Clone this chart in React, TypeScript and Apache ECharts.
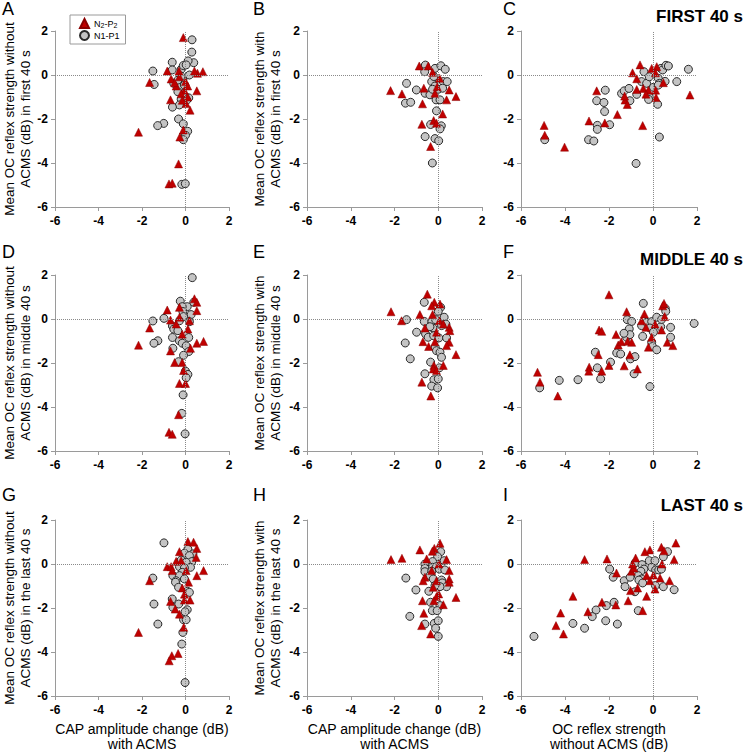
import React, { useEffect, useRef } from "react";
import * as echarts from "echarts";

// ---- data: [x, y] pairs per panel ----
const aTri = [[-0.1,1.7],[-0.84,0.18],[-1.65,-0.34],[-2.16,-2.6],[-0.69,-1.13],[-0.66,-0.18],[-0.3,0.18],[0.8,0.15],[0.52,-0.72],[0.21,-1.6],[0.55,0.08],[0.41,0.18],[0,-0.3],[-0.05,-0.7],[0.1,-0.5],[-0.2,-0.85],[-0.43,-0.5],[-0.5,-0.35],[-0.32,-4.04],[-0.76,-4.95],[-0.61,-4.92],[-0.26,-2.82],[-0.1,-2.5],[0.03,-1.3],[-0.15,-1.15],[0.1,-1.0],[-0.28,-0.08]];
const aCirc = [[0.3,1.6],[0.29,1.04],[-0.61,0.58],[0.38,0.56],[0.12,0.64],[-1.5,0.18],[-1.44,-0.43],[-0.61,0.23],[-0.2,0.26],[-0.1,0.43],[0.03,0.46],[0.18,0],[-0.54,-0.38],[-0.28,-0.56],[-0.12,-0.2],[-0.35,-0.76],[0.15,-1.04],[-0.2,-1.1],[0.06,-1.14],[-0.28,-1.36],[-0.6,-1.46],[-0.32,-2.0],[-0.1,-2.22],[-1.0,-2.2],[-1.28,-2.3],[0.1,-2.56],[0,-2.74],[-0.1,-2.94],[-0.17,-4.97],[-0.01,-4.94],[-0.35,-0.23],[-0.05,-0.46],[-0.2,-0.05]];

const bTri = [[-0.87,0.41],[-0.46,0.41],[-0.26,0.12],[0.06,-0.15],[-2.18,-0.71],[-1.66,-0.86],[-0.66,-0.6],[0.5,-0.68],[-0.72,-1.31],[0.38,-1.13],[0.81,-0.98],[0.2,-1.77],[-0.75,-2.24],[-0.21,-2.07],[-0.08,-2.19],[-0.35,-3.25],[-0.15,-0.83],[-0.05,-0.53]];
const bCirc = [[-0.59,0.45],[-0.62,0.15],[-0.15,0.3],[0.12,0.42],[0.32,0.26],[-1.45,-0.38],[-1.0,-0.68],[-1.5,-1.28],[-1.26,-1.24],[-0.6,-0.83],[-0.3,-0.3],[-0.15,-0.5],[0,-0.65],[0.23,-0.3],[0.41,-0.3],[-0.38,-0.9],[-0.1,-1.13],[0.08,-1.13],[-0.08,-1.63],[-0.35,-2.25],[0.14,-2.31],[0.08,-2.45],[-0.6,-2.8],[-0.15,-2.89],[0.02,-2.99],[-0.27,-4.0],[-0.2,-0.07],[-0.26,-0.65],[0.2,-0.6]];

const cTri = [[-4.95,-2.29],[-4.92,-2.74],[-4.02,-3.28],[-2.91,-2.09],[-2.56,-0.72],[-2.19,-2.18],[-1.62,-1.8],[-1.27,-1.14],[-1.17,-1.34],[-0.93,0.1],[-0.74,-0.17],[-0.74,-0.66],[-0.59,0.46],[-0.44,-0.61],[-0.47,-2.3],[-0.06,0.3],[0.17,0.38],[0.11,0.1],[0.12,-0.69],[0.14,-1.02],[-0.21,-0.69],[-0.32,-0.87],[1.68,-0.91],[-1.29,-0.96],[0.47,-0.35]];
const cCirc = [[-4.92,-2.94],[-2.93,-2.94],[-2.69,-3.0],[-2.53,-2.29],[-2.53,-2.47],[-2.56,-1.17],[-2.17,-0.69],[-2.23,-1.25],[-2.2,-1.66],[-1.97,-2.26],[-1.43,-0.84],[-1.31,-0.72],[-1.09,-0.61],[-1.05,-1.17],[-0.74,-0.88],[-0.77,-4.02],[-0.41,0.15],[-0.52,-0.3],[-0.29,-0.38],[-0.17,-0.08],[-0.17,-0.99],[-0.2,-1.11],[0.02,-0.56],[0.21,-1.33],[0.29,-2.82],[0.24,-0.15],[0.29,-0.38],[0.36,0.3],[0.44,0.23],[0.59,0.44],[0.7,0.41],[0.55,-0.29],[1.08,-0.3],[1.61,0.26],[0.24,-0.46]];

const dTri = [[0.41,0.92],[0.52,0.76],[-0.84,0.41],[-0.69,-0.05],[-0.28,0.53],[-1.65,-0.41],[-2.16,-1.19],[0.52,0.38],[0.52,-1.1],[0.83,-1.02],[0.11,-0.46],[-0.5,-1.98],[-0.15,-1.98],[-0.69,-1.45],[0.23,-1.33],[-0.09,-2.34],[-0.28,-2.93],[0,-2.93],[-0.32,-4.35],[-0.76,-5.15],[-0.61,-5.24],[-0.43,-0.23],[-0.15,-0.69],[-0.28,0.08],[0.18,-0.08]];
const dCirc = [[0.31,1.88],[0.38,0.76],[-0.24,0.81],[0.08,0.56],[-0.15,0.56],[0.26,0.2],[-0.12,0.34],[-0.09,0.11],[-0.28,-0.08],[0.18,-0.12],[-0.99,0.03],[-1.5,-0.09],[-0.6,-0.32],[-0.54,-0.46],[-0.35,-0.53],[-1.27,-0.99],[-1.45,-1.1],[-0.6,-0.84],[0.15,-0.84],[-0.28,-0.99],[-0.15,-1.1],[0.03,-1.22],[-0.58,-1.33],[0.15,-1.48],[-0.09,-1.65],[-0.32,-1.94],[0,-2.37],[0.11,-2.52],[0.03,-2.67],[-0.11,-3.45],[-0.17,-4.29],[-0.02,-5.22]];

const eTri = [[-0.5,1.13],[-0.18,0.76],[0.08,0.68],[-0.3,0.6],[-2.16,0.33],[-1.68,-0.08],[-0.84,0.2],[-0.26,0.2],[-0.61,-0.41],[0.5,-0.38],[0.53,-0.53],[-0.7,-1.03],[-0.44,-1.25],[-0.15,-1.03],[0.5,-1.06],[0.38,-1.21],[0.81,-1.62],[0.23,-2.11],[-0.2,-2.11],[-0.23,-2.27],[-0.08,-2.34],[-0.75,-2.87],[-0.34,-3.5],[0.05,-0.08],[-0.08,-0.6],[0.23,-0.23]];
const eCirc = [[-0.64,0.76],[0.11,0.53],[0,0.35],[0.27,0.08],[-1.45,-0.03],[-0.64,-0.11],[-0.29,-0.11],[-0.12,-0.03],[0.35,-0.23],[0.15,-0.3],[-0.99,-0.6],[-0.24,-0.41],[-0.38,-0.35],[-0.58,-0.68],[-0.46,-0.83],[-0.21,-0.76],[0.03,-0.86],[0.38,-0.86],[-1.51,-1.09],[-0.14,-1.28],[-0.08,-1.44],[0.08,-1.51],[0.15,-1.74],[-1.28,-1.81],[-0.35,-1.96],[0.05,-2.22],[-0.61,-2.49],[-0.2,-2.76],[0,-2.72],[-0.3,-3.05],[-0.03,-3.13]];

const fTri = [[-5.25,-2.42],[-5.14,-2.87],[-4.33,-3.5],[-2.9,-2.19],[-2.92,-2.37],[-2.45,-0.5],[-2.33,-0.56],[-2.49,-1.62],[-2.33,-2.37],[-2.0,1.1],[-2.0,-2.11],[-1.68,-0.71],[-1.58,-1.18],[-1.44,-1.03],[-1.31,-2.13],[-1.2,0.33],[-1.15,-1.01],[-0.97,-1.06],[-1.05,-1.63],[-0.71,-2.27],[-0.39,0.23],[-0.32,-0.38],[-0.21,-1.28],[-0.06,-0.83],[0.09,-0.23],[0.44,0.6],[0.5,0.71],[0.53,0.11],[0.39,-0.5],[0.65,-1.06],[0.9,-1.21],[-0.52,-0.08]];
const fCirc = [[-5.15,-3.13],[-4.26,-2.79],[-3.41,-2.76],[-2.62,-1.51],[-2.53,-2.22],[-2.38,-2.72],[-1.93,-1.96],[-1.65,-1.54],[-1.47,-1.59],[-1.17,-0.03],[-0.97,-0.11],[-1.08,-0.45],[-1.2,-0.83],[-1.05,-0.71],[-1.32,-0.65],[-1.02,-1.81],[-0.82,-1.71],[-0.86,-2.49],[-0.44,0.71],[-0.52,-0.3],[-0.47,-0.79],[-0.29,-0.15],[-0.06,-0.12],[-0.14,-0.41],[0.02,-0.6],[0.17,0.08],[0.35,-0.35],[0.39,-0.02],[0.56,0.48],[0.58,0.35],[0.8,-0.38],[0.8,-0.83],[-0.06,-1.06],[-0.02,-1.25],[0.17,-1.4],[-0.14,-3.07],[1.87,-0.2]];

const gTri = [[0.11,1.02],[0.37,0.99],[0.52,0.71],[-0.28,0.56],[-0.43,0.12],[-0.84,-0.12],[-0.66,-0.12],[-0.61,-0.3],[0.83,-0.3],[0.52,-0.53],[-1.65,-0.76],[0.14,-0.83],[-0.15,-1.09],[-0.05,-1.37],[-0.05,-1.64],[0.21,-1.64],[-0.69,-1.7],[-0.47,-2.05],[-0.28,-2.28],[-0.08,-2.88],[-2.16,-3.11],[-0.34,-4.07],[-0.63,-4.17],[-0.75,-4.4],[0.03,-0.3],[-0.2,0.15],[0.49,0.3]];
const gCirc = [[-0.99,0.96],[0.11,0.68],[0.34,0.46],[-0.05,0.49],[0.18,0.38],[-0.2,0.18],[0.29,0.11],[0.03,0.08],[-0.28,-0.12],[0.23,-0.15],[-0.05,-0.18],[-0.15,-0.38],[-0.58,-0.53],[-0.28,-0.53],[-0.43,-0.76],[-0.05,-0.68],[-1.5,-0.64],[-0.46,-0.83],[-0.32,-1.06],[0.08,-1.24],[0.18,-1.29],[-0.61,-1.59],[-0.58,-1.97],[-0.31,-1.82],[-1.45,-1.82],[0.08,-2.08],[-0.02,-2.17],[-0.09,-2.53],[0.03,-2.53],[-1.27,-2.73],[-0.12,-3.11],[-0.17,-3.64],[-0.02,-5.39]];

const hTri = [[0.08,0.94],[-0.18,0.71],[-0.27,0.58],[-0.84,0.64],[-2.16,0.2],[-1.66,0.26],[-0.53,0.23],[0.38,0.2],[0.5,-0.3],[0.03,0],[0.5,-0.68],[0.5,-0.83],[-0.61,-0.6],[-0.69,-0.76],[-0.23,-1.06],[0.02,-1.36],[-0.08,-1.48],[0.81,-1.52],[-0.72,-1.67],[0.23,-1.85],[-0.2,-1.67],[-0.66,-2.24],[-0.76,-2.8],[-0.35,-3.18],[-0.08,-0.76],[-0.3,-0.3]];
const hCirc = [[0.11,0.56],[-0.03,0.33],[0.27,0.15],[-0.26,0.11],[-0.61,0],[-0.61,-0.2],[-0.61,-0.35],[-0.26,-0.15],[-0.08,-0.12],[0.05,-0.23],[0.3,-0.27],[-0.3,-0.33],[-0.38,-0.53],[-0.23,-0.68],[0.15,-0.73],[0.18,-0.86],[0.38,-1.03],[0.08,-1.03],[-0.15,-0.98],[-1.48,-0.64],[-1.02,-1.18],[-0.43,-1.24],[-0.35,-1.74],[0.08,-1.89],[-0.27,-2.12],[-0.05,-2.12],[-1.3,-2.38],[-0.61,-2.73],[-0.18,-2.7],[0,-2.58],[-0.12,-2.92],[0,-3.29]];

const iTri = [[1.04,0.95],[0.38,0.76],[0.5,0.6],[-0.14,0.64],[-0.37,0.56],[-0.79,0.27],[0.96,0.2],[-3.11,0.2],[-2.09,0.23],[-1.66,-0.41],[-0.98,-0.33],[-0.87,-0.18],[-0.93,0],[0.41,0],[-0.29,-0.53],[0.02,-0.5],[-0.14,-0.76],[0.32,-0.64],[0.75,-0.76],[0.09,-1.14],[-1.02,-1.21],[-0.7,-1.09],[-3.64,-1.47],[-1.13,-1.67],[-0.29,-1.47],[-2.32,-1.74],[-1.69,-1.86],[-2.96,-2.17],[-0.47,-2.12],[-4.2,-2.23],[-4.41,-2.8],[-4.07,-3.18]];
const iCirc = [[0.66,0.56],[0.47,0.33],[-0.17,0.15],[0.09,0.15],[-0.81,0.05],[-0.5,-0.03],[-0.06,-0.15],[-0.41,-0.23],[0.12,-0.27],[0.26,-0.27],[0.38,-0.23],[-0.55,-0.33],[-1.97,-0.23],[-1.81,-0.6],[-0.67,-0.53],[-0.52,-0.68],[-0.64,-0.73],[-0.47,-0.86],[-1.31,-0.76],[-1.27,-1.03],[-1.04,-0.6],[0.11,-0.98],[0.47,-1.03],[0.96,-1.17],[-0.82,-1.26],[-1.77,-1.74],[-2.12,-1.89],[-2.59,-2.09],[-2.76,-2.39],[-2.15,-2.58],[-0.67,-2.12],[-3.64,-2.7],[-3.11,-2.92],[-1.62,-2.73],[-5.41,-3.29]];

const triSets = [aTri, bTri, cTri, dTri, eTri, fTri, gTri, hTri, iTri];
const circSets = [aCirc, bCirc, cCirc, dCirc, eCirc, fCirc, gCirc, hCirc, iCirc];
const panelLetters = ["A", "B", "C", "D", "E", "F", "G", "H", "I"];
const rowTitles = ["FIRST 40 s", "MIDDLE 40 s", "LAST 40 s"];
const yTitles = [
  ["Mean OC reflex strength without", "ACMS (dB) in first 40 s"],
  ["Mean OC reflex strength with", "ACMS (dB) in first 40 s"],
  ["Mean OC reflex strength without", "ACMS (dB) in middle 40 s"],
  ["Mean OC reflex strength with", "ACMS (dB) in middle 40 s"],
  ["Mean OC reflex strength without", "ACMS (dB) in the last 40 s"],
  ["Mean OC reflex strength with", "ACMS (dB) in the last 40 s"],
];
const xTitles = [
  ["CAP amplitude change (dB)", "with ACMS"],
  ["CAP amplitude change (dB)", "with ACMS"],
  ["OC reflex strength", "without ACMS (dB)"],
];
const axisMin = -6;
const axisMax = 2;
const axisStep = 2;
const seriesNames = ["N2-P2", "N1-P1"];

// layout
const colLeft = [55, 307, 521];
const colWidth = [174, 175, 176];
const rowTop = [31, 275, 520];
const plotH = 176;
const FONT = "'Liberation Sans', Arial, sans-serif";

export default function App() {
  const ref = useRef<HTMLDivElement>(null);
  useEffect(() => {
    if (!ref.current) return;
    const chart = echarts.init(ref.current, undefined, { renderer: "svg" });
    const grids: any[] = [];
    const xAxes: any[] = [];
    const yAxes: any[] = [];
    const series: any[] = [];
    const graphics: any[] = [];
    const axisCommon = {
      type: "value",
      min: axisMin,
      max: axisMax,
      interval: axisStep,
      axisLine: { show: true, onZero: false, lineStyle: { color: "#9a9a9a", width: 1 } },
      axisTick: { show: true, length: 4, lineStyle: { color: "#9a9a9a" } },
      splitLine: { show: false },
    };
    for (let i = 0; i < 9; i++) {
      const r = Math.floor(i / 3);
      const c = i % 3;
      grids.push({ left: colLeft[c], top: rowTop[r], width: colWidth[c], height: plotH, containLabel: false });
      xAxes.push({
        ...axisCommon,
        gridIndex: i,
        axisLabel: { color: "#000", fontWeight: "bold", fontSize: 12, fontFamily: FONT, margin: 8 },
      });
      yAxes.push({
        ...axisCommon,
        gridIndex: i,
        axisLabel: { color: "#000", fontWeight: "bold", fontSize: 12, fontFamily: FONT, margin: 7 },
      });
      series.push({
        name: seriesNames[1],
        type: "scatter",
        xAxisIndex: i,
        yAxisIndex: i,
        symbol: "circle",
        symbolSize: 8,
        itemStyle: { color: "#c4c4c4", borderColor: "#2a2a2a", borderWidth: 1, opacity: 1 },
        data: circSets[i],
        markLine: {
          silent: true,
          symbol: ["none", "none"],
          label: { show: false },
          lineStyle: { type: "dotted", color: "#8a8a8a", width: 1 },
          emphasis: { disabled: true },
          data: [{ xAxis: 0 }, { yAxis: 0 }],
        },
      });
      series.push({
        name: seriesNames[0],
        type: "scatter",
        xAxisIndex: i,
        yAxisIndex: i,
        symbol: "triangle",
        symbolSize: 8,
        itemStyle: { color: "#c00000", borderColor: "#8a0000", borderWidth: 0.5, opacity: 1 },
        data: triSets[i],
      });
      // panel letters
      const letterX = [2, 253, 503][c];
      const letterY = [9, 252, 495][r];
      graphics.push({
        type: "text",
        x: letterX,
        y: letterY,
        style: {
          text: panelLetters[i],
          fontSize: 18,
          fontFamily: FONT,
          fill: "#000",
          textAlign: "left",
          textVerticalAlign: "middle",
        },
      });
      // y titles
      if (c < 2) {
        const lines = yTitles[r * 2 + c];
        const cy = rowTop[r] + plotH / 2;
        const lx = c === 0 ? [9, 25] : [259, 275];
        lines.forEach((t, k) => {
          graphics.push({
            type: "text",
            x: lx[k],
            y: cy,
            rotation: Math.PI / 2,
            style: {
              text: t,
              fontSize: 13.5,
              fontFamily: FONT,
              fill: "#000",
              textAlign: "center",
              textVerticalAlign: "middle",
            },
          });
        });
      }
      if (r === 2) {
        const cx = colLeft[c] + colWidth[c] / 2;
        xTitles[c].forEach((t, k) => {
          graphics.push({
            type: "text",
            x: cx,
            y: 729 + k * 15,
            style: {
              text: t,
              fontSize: 14,
              fontFamily: FONT,
              fill: "#000",
              textAlign: "center",
              textVerticalAlign: "middle",
            },
          });
        });
      }
    }
    const titleY = [16, 259, 505];
    rowTitles.forEach((t, r) => {
      graphics.push({
        type: "text",
        x: 743,
        y: titleY[r],
        style: {
          text: t,
          fontSize: 17,
          fontWeight: "bold",
          fontFamily: FONT,
          fill: "#000",
          textAlign: "right",
          textVerticalAlign: "middle",
        },
      });
    });

    chart.setOption({
      animation: false,
      backgroundColor: "#fff",
      grid: grids,
      xAxis: xAxes,
      yAxis: yAxes,
      series,
      graphic: graphics,
      legend: {
        show: true,
        data: seriesNames,
        orient: "vertical",
        left: 70,
        top: 15,
        padding: [3, 6, 3, 9],
        itemGap: 1,
        itemWidth: 9,
        itemHeight: 9,
        borderColor: "#9a9a9a",
        borderWidth: 1,
        selectedMode: false,
        formatter: (name: string) =>
          name === "N2-P2" ? "{n|N}{s|2}{n|-P}{s|2}" : "{n|N1-P1}",
        textStyle: {
          fontFamily: FONT,
          fontSize: 9,
          color: "#000",
          rich: {
            n: { fontSize: 9, fontFamily: FONT, color: "#000", lineHeight: 11 },
            s: { fontSize: 7, fontFamily: FONT, color: "#000", lineHeight: 11, verticalAlign: "bottom", padding: [3, 0, 0, 0] },
          },
        },
      },
    });
    return () => chart.dispose();
  }, []);
  return (
    <div
      ref={ref}
      style={{ position: "absolute", left: 0, top: 0, width: 745, height: 752, background: "#fff" }}
    />
  );
}
